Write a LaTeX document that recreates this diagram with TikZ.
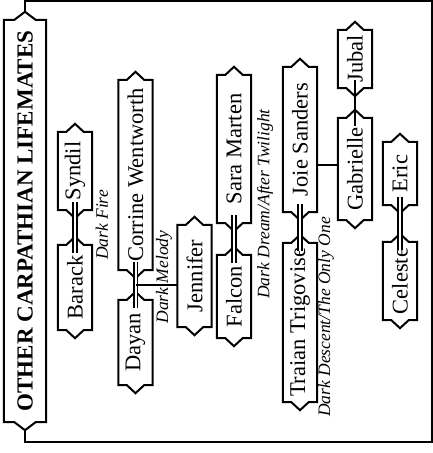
\documentclass[tikz,border=0pt]{standalone}
\usepackage{fontspec}
\setmainfont{Liberation Serif}
\usetikzlibrary{calc}

\tikzset{
  boxline/.style={line width=2pt, line join=miter},
  person/.style={rotate=90, minimum width=#1, minimum height=34pt, inner sep=0pt,
                 font=\fontsize{22.5}{24}\selectfont},
  book/.style={rotate=90, inner sep=0pt, font=\fontsize{17.5}{19}\selectfont\itshape},
  wed/.style={double, line width=1.6pt, double distance=2pt,
              shorten <=-8pt, shorten >=-8pt},
  kin/.style={line width=2pt},
}

\begin{document}
\begin{tikzpicture}[x=1pt,y=-1pt]
  \fill[white](0,0)rectangle(433,453);
  \useasboundingbox(0,0)rectangle(433,453);
  % title banner
  \node[rotate=90, minimum width=402pt, minimum height=42pt, inner sep=0pt,
        font=\fontsize{23}{25}\selectfont\bfseries] (title) at (25,221) {OTHER CARPATHIAN LIFEMATES};
  % people
  \node[person=78pt]  (syndil)    at (75,171)    {Syndil};
  \node[person=85pt]  (barack)    at (75,287.5)  {Barack};
  \node[person=190pt] (corrine)   at (135.5,175) {Corrine Wentworth};
  \node[person=85pt]  (dayan)     at (135.5,342.5) {Dayan};
  \node[person=102pt] (jennifer)  at (194.5,276) {Jennifer};
  \node[person=148pt] (sara)      at (234,149)   {Sara Marten};
  \node[person=83pt]  (falcon)    at (234,296.5) {Falcon};
  \node[person=145pt] (joie)      at (300,139.5) {Joie Sanders};
  \node[person=159pt] (traian)    at (300,322.5) {Traian Trigovise};
  \node[person=58pt]  (jubal)     at (355,59)    {Jubal};
  \node[person=102pt] (gabrielle) at (355,169)   {Gabrielle};
  \node[person=63pt]  (eric)      at (400,173.5) {Eric};
  \node[person=78pt]  (celeste)   at (400,281)   {Celeste};
  % book titles
  \node[book] (fire)    at (102,225) {Dark Fire};
  \node[book] (melody)  at (164,277) {Dark Melody};
  \node[book] (dream)   at (265,204) {Dark Dream/After Twilight};
  \node[book] (descent) at (326,317) {Dark Descent/The Only One};
  % pointed outlines
  \foreach \n in {title,syndil,barack,corrine,dayan,jennifer,sara,falcon,
                  joie,traian,jubal,gabrielle,eric,celeste}
    \draw[boxline](\n.north west)--(\n.north east)
      --($(\n.north east)!0.25!(\n.south east)$)--($(\n.east)!-8pt!(\n.west)$)
      --($(\n.north east)!0.75!(\n.south east)$)
      --(\n.south east)--(\n.south west)
      --($(\n.south west)!0.25!(\n.north west)$)--($(\n.west)!-8pt!(\n.east)$)
      --($(\n.south west)!0.75!(\n.north west)$)--cycle;
  % frame
  \coordinate (frame ne) at (432,1);
  \coordinate (frame se) at (432,442);
  \draw[boxline]($(title.east)!-8pt!(title.west)$)|-(frame ne)--(frame se)
    -|($(title.west)!-8pt!(title.east)$);
  % couples
  \draw[wed](syndil.west)--(barack.east);
  \draw[wed](corrine.west)--(dayan.east);
  \draw[wed](sara.west)--(falcon.east);
  \draw[wed](joie.west)--(traian.east);
  \draw[wed](eric.west)--(celeste.east);
  % kin lines
  \coordinate (cd) at ($(corrine.west)!0.5!(dayan.east)$);
  \draw[kin](cd)--(cd -| jennifer.north);
  \coordinate (jg) at ([yshift=4pt]gabrielle.north);
  \draw[kin](jg)--(jg -| joie.south);
  \draw[kin,shorten <=-8pt,shorten >=-8pt](jubal.west)--(gabrielle.east);
\end{tikzpicture}
\end{document}
